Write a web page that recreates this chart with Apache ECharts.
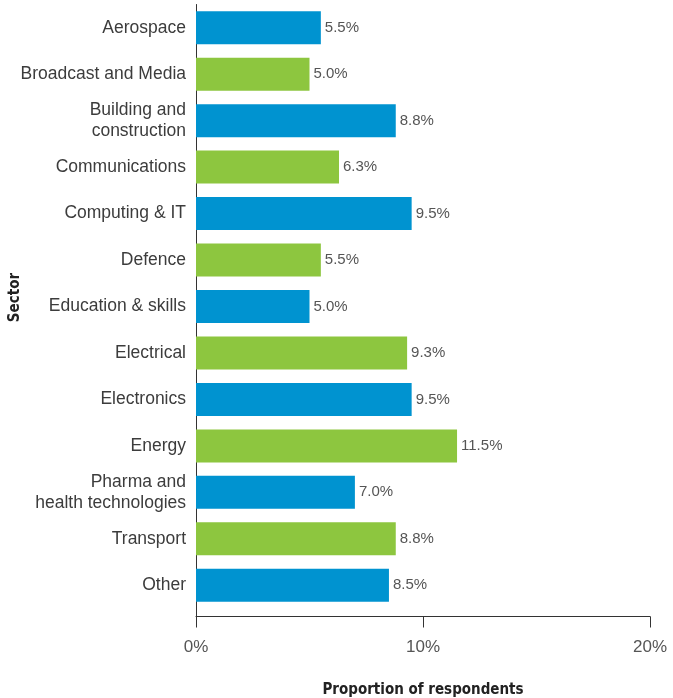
<!DOCTYPE html>
<html>
<head>
<meta charset="utf-8">
<script src="https://cdn.jsdelivr.net/npm/echarts@6/dist/echarts.min.js"></script>
<style>
  html, body { margin: 0; padding: 0; background: #fff; }
  #chart { width: 673px; height: 698px; }
</style>
</head>
<body>
<div id="chart"></div>
<script>
// Sector breakdown of respondents
const sectors = [
  'Aerospace',
  'Broadcast and Media',
  'Building and\nconstruction',
  'Communications',
  'Computing & IT',
  'Defence',
  'Education & skills',
  'Electrical',
  'Electronics',
  'Energy',
  'Pharma and\nhealth technologies',
  'Transport',
  'Other'
];
const shares = [5.5, 5.0, 8.8, 6.3, 9.5, 5.5, 5.0, 9.3, 9.5, 11.5, 7.0, 8.8, 8.5];
const xTicks = [0, 10, 20];

const BLUE = '#0093d0';
const GREEN = '#8dc63f';
const INK = '#3c3c3c';
const FONT = 'Liberation Sans';
const TITLE_FONT = 'DejaVu Sans Condensed';

const chart = echarts.init(document.getElementById('chart'), null, { renderer: 'canvas' });

chart.setOption({
  animation: false,
  backgroundColor: '#fff',
  grid: [
    // bars
    { left: 196, right: 23, top: 4.5, bottom: 89.5, containLabel: false, outerBoundsMode: 'none' },
    // full-height frame for the vertical axis line
    { left: 196, right: 23, top: 4.5, bottom: 81.5, containLabel: false, outerBoundsMode: 'none' }
  ],
  xAxis: [
    {
      gridIndex: 0,
      type: 'value',
      min: xTicks[0],
      max: xTicks[xTicks.length - 1],
      interval: xTicks[1] - xTicks[0],
      offset: 8,
      axisLine: { show: true, lineStyle: { color: '#333', width: 1 } },
      axisTick: { show: true, length: 11, lineStyle: { color: '#333', width: 1 } },
      splitLine: { show: false },
      axisLabel: {
        margin: 22,
        fontFamily: FONT,
        fontSize: 17,
        color: '#555',
        formatter: v => v + '%'
      },
      name: 'Proportion of respondents',
      nameLocation: 'middle',
      nameGap: 66,
      nameMoveOverlap: false,
      nameTextStyle: {
        fontFamily: TITLE_FONT,
        fontWeight: 'bold',
        fontSize: 15,
        color: '#222'
      }
    },
    {
      gridIndex: 1,
      type: 'value',
      min: 0,
      max: 20,
      show: false
    }
  ],
  yAxis: [
    {
      gridIndex: 0,
      type: 'category',
      inverse: true,
      data: sectors,
      axisLine: { show: false },
      axisTick: { show: false },
      axisLabel: {
        margin: 10,
        fontFamily: FONT,
        fontSize: 17.5,
        lineHeight: 21,
        color: INK,
        align: 'right'
      },
      name: 'Sector',
      nameLocation: 'middle',
      nameRotate: 90,
      nameGap: 173,
      nameMoveOverlap: false,
      nameTextStyle: {
        fontFamily: TITLE_FONT,
        fontWeight: 'bold',
        fontSize: 15,
        color: '#222',
        padding: [0, 0, 0, 18]
      }
    },
    {
      gridIndex: 1,
      type: 'value',
      min: 0,
      max: 1,
      axisLine: { show: true, lineStyle: { color: '#333', width: 1 } },
      axisTick: { show: false },
      axisLabel: { show: false },
      splitLine: { show: false }
    }
  ],
  series: [
    {
      type: 'bar',
      xAxisIndex: 0,
      yAxisIndex: 0,
      data: shares,
      barCategoryGap: '29%',
      itemStyle: {
        color: p => (p.dataIndex % 2 === 0 ? BLUE : GREEN)
      },
      label: {
        show: true,
        position: 'right',
        distance: 4,
        fontFamily: FONT,
        fontSize: 15,
        color: '#555',
        formatter: p => p.value.toFixed(1) + '%'
      }
    }
  ]
});
</script>
</body>
</html>
